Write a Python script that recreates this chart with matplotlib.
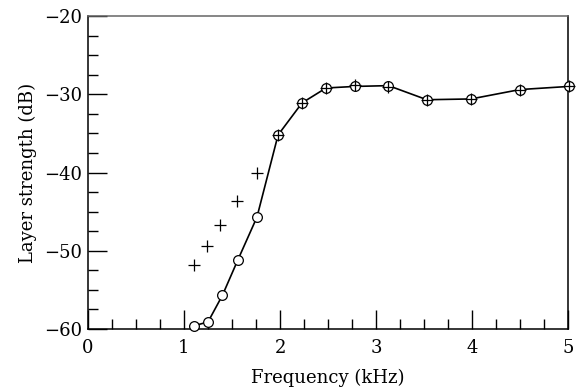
import numpy as np
import matplotlib
matplotlib.use("Agg")
import matplotlib.pyplot as plt
from matplotlib.ticker import MultipleLocator

plt.rcParams['font.family'] = ['DejaVu Serif']
plt.rcParams['mathtext.fontset'] = 'dejavuserif'

# circles (joined by the line)
freq_circ = [1.10, 1.25, 1.40, 1.56, 1.76, 1.98, 2.23, 2.48, 2.78, 3.13, 3.53, 3.99, 4.50, 5.01]
level_circ = [-59.6, -59.1, -55.7, -51.2, -45.7, -35.2, -31.1, -29.2, -29.0, -28.9, -30.7, -30.6, -29.4, -29.0]

# crosses
freq_plus = [1.10, 1.24, 1.38, 1.55, 1.76, 1.98, 2.23, 2.48, 2.78, 3.13, 3.53, 3.99, 4.50, 5.01]
level_plus = [-51.8, -49.4, -46.7, -43.6, -40.0, -35.2, -31.1, -29.2, -28.8, -29.1, -30.7, -30.6, -29.4, -29.0]

fig = plt.figure(figsize=(5.84, 3.89), dpi=100)
ax = fig.add_axes([88 / 584, 60 / 389, 480 / 584, 313 / 389])

ax.plot(freq_circ, level_circ, color='black', lw=1.2, zorder=2)
ax.plot(freq_circ, level_circ, 'o', ms=7.0, mfc='white', mec='black', mew=0.9,
        zorder=3, clip_on=False)
ax.plot(freq_plus, level_plus, '+', ms=8, color='black', mew=0.9, zorder=4, clip_on=False)

ax.set_xlim(0, 5)
ax.set_ylim(-60, -20)
ax.xaxis.set_major_locator(MultipleLocator(1))
ax.xaxis.set_minor_locator(MultipleLocator(0.25))
ax.yaxis.set_major_locator(MultipleLocator(10))
ax.yaxis.set_minor_locator(MultipleLocator(2.5))
ax.tick_params(which='major', direction='in', length=14, width=1, labelsize=13, pad=4)
ax.tick_params(axis='x', which='major', pad=7)
ax.tick_params(which='minor', direction='in', length=7, width=1)
ax.tick_params(top=False, right=False, which='both')

for s in ax.spines.values():
    s.set_linewidth(1.1)
ax.spines['top'].set_color('#666666')

ax.set_xlabel('Frequency (kHz)', fontsize=13, labelpad=9)
ax.set_ylabel('Layer strength (dB)', fontsize=13, labelpad=5)

fig.savefig('out.png', dpi=100)
